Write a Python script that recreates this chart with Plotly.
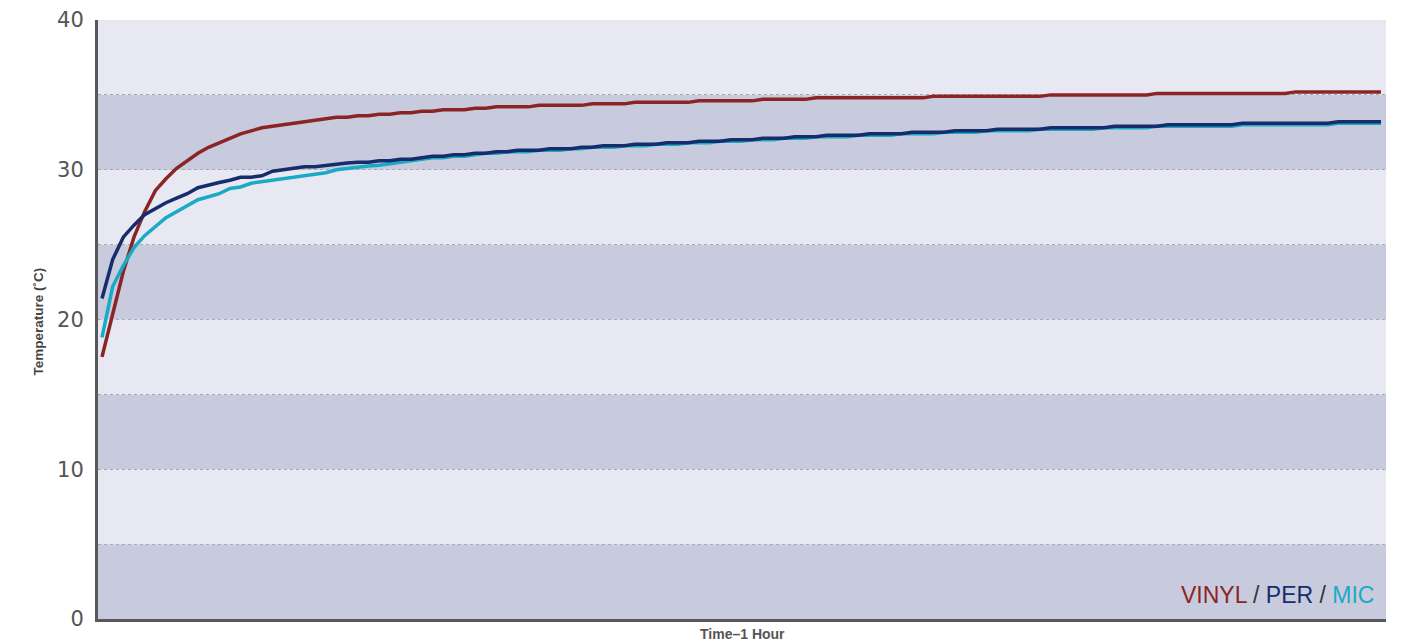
import plotly.graph_objects as go

# time in minutes (30 s samples over 1 hour)
time_min = [i * 0.5 for i in range(121)]

vinyl = [
    17.5, 20.4, 23.2, 25.5, 27.2, 28.6, 29.4, 30.1, 30.6, 31.1,
    31.5, 31.8, 32.1, 32.4, 32.6, 32.8, 32.9, 33.0, 33.1, 33.2,
    33.3, 33.4, 33.5, 33.5, 33.6, 33.6, 33.7, 33.7, 33.8, 33.8,
    33.9, 33.9, 34.0, 34.0, 34.0, 34.1, 34.1, 34.2, 34.2, 34.2,
    34.2, 34.3, 34.3, 34.3, 34.3, 34.3, 34.4, 34.4, 34.4, 34.4,
    34.5, 34.5, 34.5, 34.5, 34.5, 34.5, 34.6, 34.6, 34.6, 34.6,
    34.6, 34.6, 34.7, 34.7, 34.7, 34.7, 34.7, 34.8, 34.8, 34.8,
    34.8, 34.8, 34.8, 34.8, 34.8, 34.8, 34.8, 34.8, 34.9, 34.9,
    34.9, 34.9, 34.9, 34.9, 34.9, 34.9, 34.9, 34.9, 34.9, 35.0,
    35.0, 35.0, 35.0, 35.0, 35.0, 35.0, 35.0, 35.0, 35.0, 35.1,
    35.1, 35.1, 35.1, 35.1, 35.1, 35.1, 35.1, 35.1, 35.1, 35.1,
    35.1, 35.1, 35.2, 35.2, 35.2, 35.2, 35.2, 35.2, 35.2, 35.2,
    35.2,
]

per = [
    21.4, 24.0, 25.5, 26.3, 27.0, 27.4, 27.8, 28.1, 28.4, 28.8,
    29.0, 29.15, 29.3, 29.5, 29.5, 29.6, 29.9, 30.0, 30.1, 30.2,
    30.2, 30.3, 30.4, 30.45, 30.5, 30.5, 30.6, 30.6, 30.7, 30.7,
    30.8, 30.9, 30.9, 31.0, 31.0, 31.1, 31.1, 31.2, 31.2, 31.3,
    31.3, 31.3, 31.4, 31.4, 31.4, 31.5, 31.5, 31.6, 31.6, 31.6,
    31.7, 31.7, 31.7, 31.8, 31.8, 31.8, 31.9, 31.9, 31.9, 32.0,
    32.0, 32.0, 32.1, 32.1, 32.1, 32.2, 32.2, 32.2, 32.3, 32.3,
    32.3, 32.3, 32.4, 32.4, 32.4, 32.4, 32.5, 32.5, 32.5, 32.5,
    32.6, 32.6, 32.6, 32.6, 32.7, 32.7, 32.7, 32.7, 32.7, 32.8,
    32.8, 32.8, 32.8, 32.8, 32.8, 32.9, 32.9, 32.9, 32.9, 32.9,
    33.0, 33.0, 33.0, 33.0, 33.0, 33.0, 33.0, 33.1, 33.1, 33.1,
    33.1, 33.1, 33.1, 33.1, 33.1, 33.1, 33.2, 33.2, 33.2, 33.2,
    33.2,
]

mic = [
    18.8, 22.2, 23.6, 24.8, 25.6, 26.2, 26.8, 27.2, 27.6, 28.0,
    28.2, 28.4, 28.75, 28.85, 29.1, 29.2, 29.3, 29.45, 29.5, 29.6,
    29.7, 29.8, 30.0, 30.1, 30.2, 30.25, 30.3, 30.4, 30.5, 30.55,
    30.7, 30.8, 30.8, 30.9, 30.9, 31.0, 31.1, 31.1, 31.2, 31.2,
    31.2, 31.3, 31.3, 31.3, 31.4, 31.4, 31.5, 31.5, 31.5, 31.6,
    31.6, 31.6, 31.7, 31.7, 31.7, 31.8, 31.8, 31.8, 31.9, 31.9,
    31.9, 32.0, 32.0, 32.0, 32.1, 32.1, 32.1, 32.2, 32.2, 32.2,
    32.2, 32.3, 32.3, 32.3, 32.3, 32.4, 32.4, 32.4, 32.4, 32.5,
    32.5, 32.5, 32.5, 32.6, 32.6, 32.6, 32.6, 32.6, 32.7, 32.7,
    32.7, 32.7, 32.7, 32.7, 32.8, 32.8, 32.8, 32.8, 32.8, 32.9,
    32.9, 32.9, 32.9, 32.9, 32.9, 32.9, 32.9, 33.0, 33.0, 33.0,
    33.0, 33.0, 33.0, 33.0, 33.0, 33.0, 33.1, 33.1, 33.1, 33.1,
    33.1,
]

y_ticks = [0, 10, 20, 30, 40]
band_edges = [0, 5, 10, 15, 20, 25, 30, 35, 40]

RED = "#8b2424"
NAVY = "#152d6c"
CYAN = "#19aac5"
DARK_BAND = "#c8cbde"
LIGHT_BAND = "#e7e8f1"

fig = go.Figure()

# horizontal bands
shapes = []
for k in range(len(band_edges) - 1):
    shapes.append(dict(
        type="rect", xref="paper", yref="y", layer="below",
        x0=0, x1=1, y0=band_edges[k], y1=band_edges[k + 1],
        fillcolor=DARK_BAND if k % 2 == 0 else LIGHT_BAND,
        line=dict(width=0),
    ))

for name, vals, col in [("VINYL", vinyl, RED), ("MIC", mic, CYAN), ("PER", per, NAVY)]:
    fig.add_trace(go.Scatter(
        x=time_min, y=vals, mode="lines", name=name,
        line=dict(color=col, width=3.5), showlegend=False,
    ))

fig.update_layout(
    width=1395, height=636,
    margin=dict(l=90, r=17, t=12, b=25, autoexpand=False),
    paper_bgcolor="white", plot_bgcolor=LIGHT_BAND,
    shapes=shapes,
    font=dict(family="Liberation Sans, Arial, sans-serif"),
    xaxis=dict(
        range=[-0.1875, 60.235], showgrid=False, zeroline=False,
        showticklabels=False, ticks="", automargin=False,
        showline=True, linecolor="#58585a", linewidth=3,
    ),
    yaxis=dict(
        range=[0, 40], tickvals=y_ticks, ticktext=[str(v) for v in y_ticks],
        showgrid=True, gridcolor="#a9a9b4", griddash="dot", gridwidth=1,
        minor=dict(dtick=5, showgrid=True, gridcolor="#a9a9b4", griddash="dot", gridwidth=1),
        zeroline=False, ticks="", automargin=False,
        tickfont=dict(size=21, color="#555555", family="DejaVu Sans, sans-serif"),
        showline=True, linecolor="#58585a", linewidth=3,
        ticklabelstandoff=7,
    ),
    annotations=[
        dict(text="<b>Temperature (˚C)</b>", xref="paper", yref="paper",
             x=-0.0465, y=0.497, textangle=-90, showarrow=False,
             font=dict(size=13.5, color="#444444"), xanchor="center", yanchor="middle"),
        dict(text="<b>Time–1 Hour</b>", xref="paper", yref="paper",
             x=0.5, y=-0.025, showarrow=False,
             font=dict(size=14, color="#555555"), xanchor="center", yanchor="middle"),
        dict(text=f"<span style='color:{RED}'>VINYL</span> / "
                  f"<span style='color:{NAVY}'>PER</span> / "
                  f"<span style='color:{CYAN}'>MIC</span>",
             xref="paper", yref="paper", x=0.9925, y=0.04,
             xanchor="right", yanchor="middle", showarrow=False,
             font=dict(size=23, color="#333333")),
    ],
)

fig.write_html("out.html")
